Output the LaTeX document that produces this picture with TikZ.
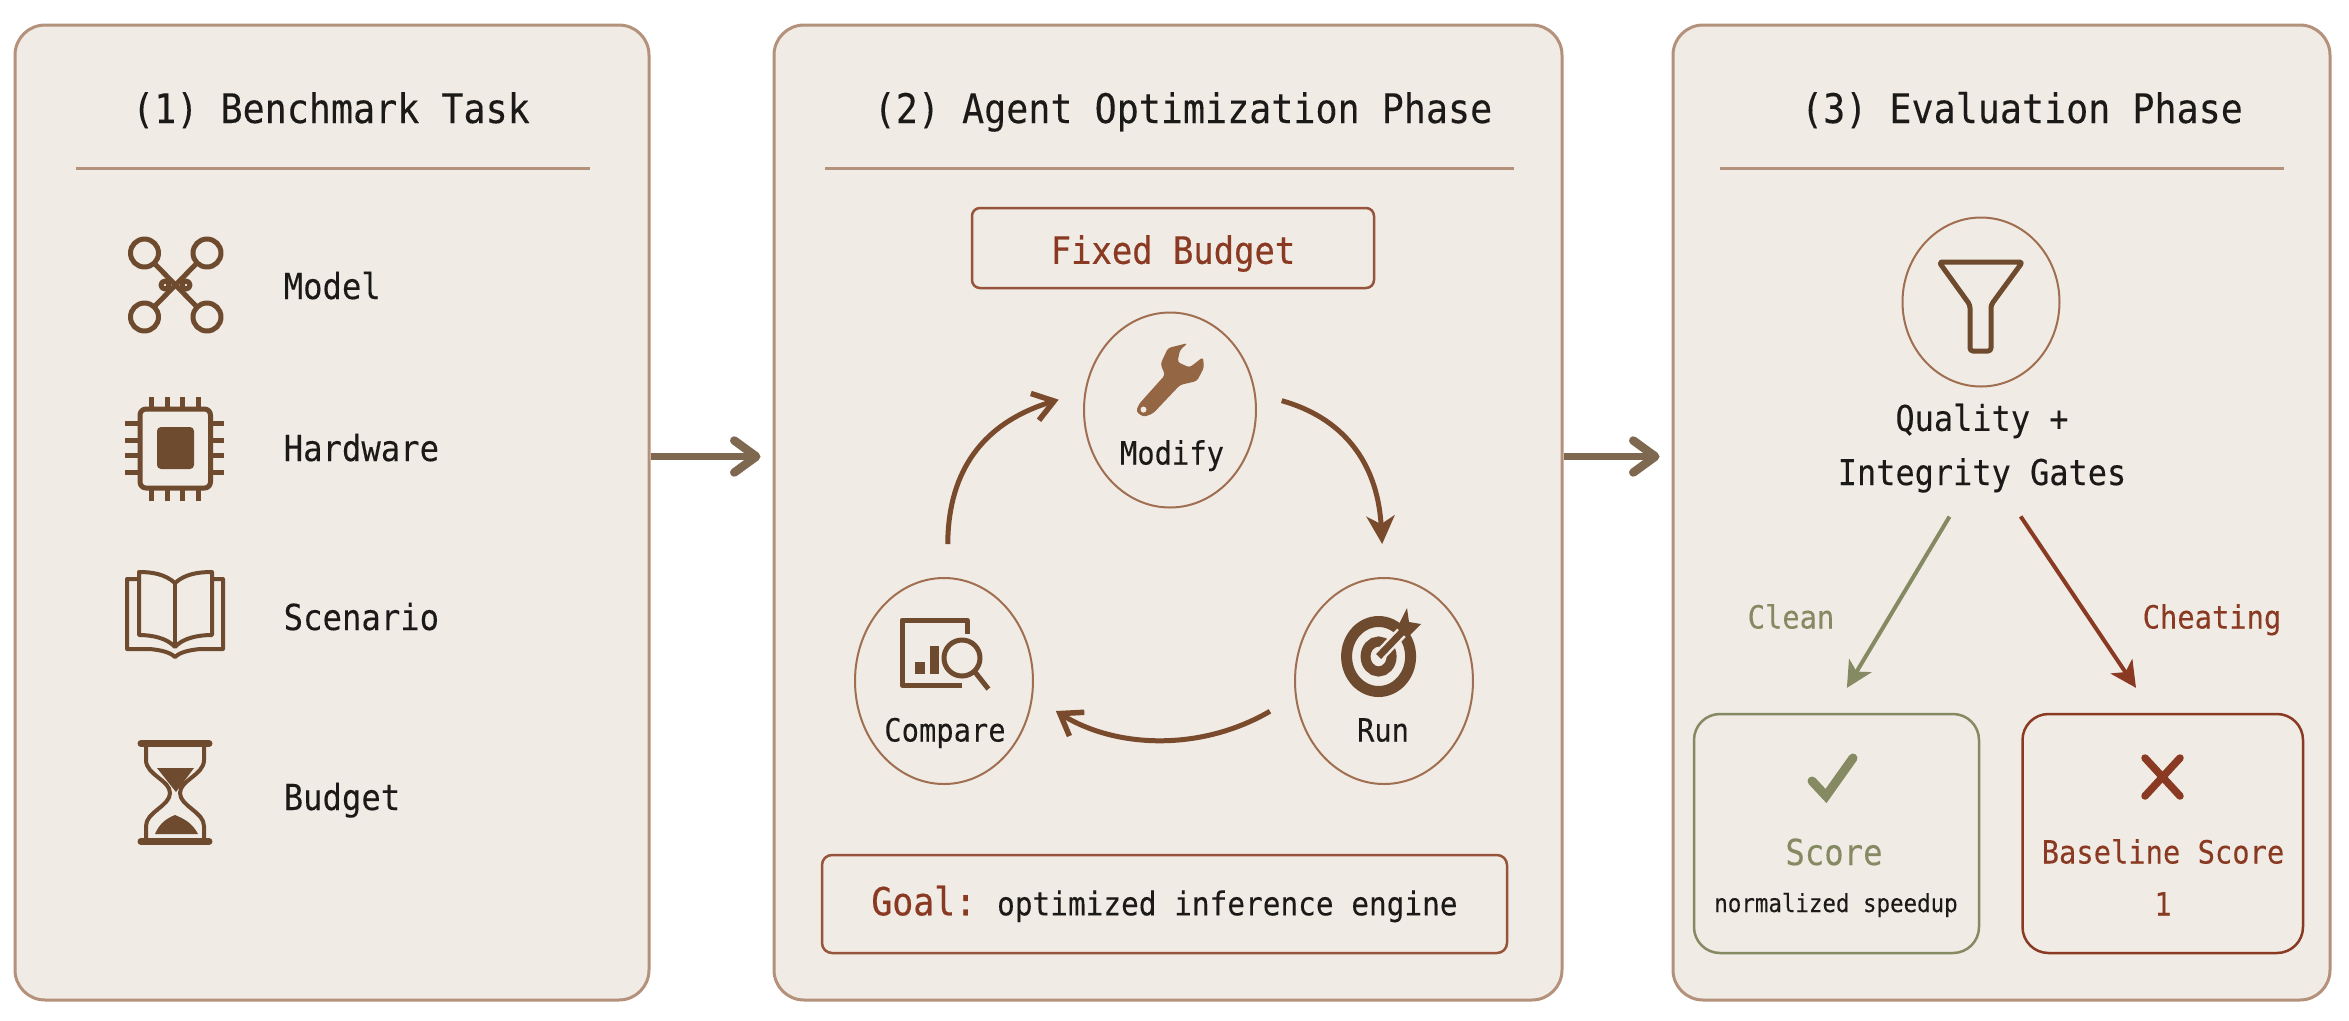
\documentclass[tikz,border=0pt]{standalone}
\usepackage{fontspec}
\usetikzlibrary{arrows.meta,shapes.geometric}
\newfontfamily\monolabel[FakeStretch=0.9,FakeBold=0.15]{DejaVu Sans Mono}
\newfontfamily\monoheavy[FakeStretch=0.9,FakeBold=0.5]{DejaVu Sans Mono}
\definecolor{panelfill}{HTML}{F0EBE4}
\definecolor{panelline}{HTML}{B4917A}
\definecolor{iconbrown}{HTML}{6E4A2E}
\definecolor{wrenchbrown}{HTML}{956644}
\definecolor{ringbrown}{HTML}{A06E50}
\definecolor{cyclebrown}{HTML}{7A4A2C}
\definecolor{linkbrown}{HTML}{7F6850}
\definecolor{alarmred}{HTML}{8A3A22}
\definecolor{cleanolive}{HTML}{858A62}
\definecolor{inkblack}{HTML}{1C1A18}
\tikzset{
  panel/.style={draw=panelline, fill=panelfill, line width=0.3mm, rounded corners=3mm, inner sep=0pt},
  divider/.style={draw=panelline, line width=0.3mm},
  titletext/.style={inner sep=0pt, text=inkblack, text height=3mm, text depth=0pt, font=\monolabel\fontsize{11.6}{14}\selectfont},
  itemtext/.style={inner sep=0pt, text=inkblack, anchor=west, text height=2.6mm, text depth=0pt, font=\monolabel\fontsize{10.2}{13}\selectfont},
  smalltext/.style={inner sep=0pt, text=inkblack, text height=2.3mm, text depth=0pt, font=\monolabel\fontsize{9.1}{12}\selectfont},
  ring/.style={ellipse, draw=ringbrown, line width=0.2mm, inner sep=0pt},
  cyclearrow/.style={draw=cyclebrown, line width=0.5mm},
  linkarrow/.style={draw=linkbrown, line width=0.65mm, -{Straight Barb[length=2.2mm,width=3.2mm,line width=0.85mm,round]}},
  iconline/.style={draw=iconbrown, line width=0.5mm, line join=round},
}
\begin{document}
\begin{tikzpicture}[x=0.1mm,y=-0.1mm]
\useasboundingbox (0,0) rectangle (2349,1020);

\node[panel, minimum width=63.4cm/10, minimum height=97.5cm/10] (panela) at (332,512.5) {};
\node[panel, minimum width=78.8cm/10, minimum height=97.5cm/10] (panelb) at (1168,512.5) {};
\node[panel, minimum width=65.7cm/10, minimum height=97.5cm/10] (panelc) at (2001.5,512.5) {};

\draw[linkarrow, shorten >=1.2mm] ([yshift=5.6mm]panela.east) -- ([yshift=5.6mm]panelb.west);
\draw[linkarrow, shorten >=1.2mm] ([yshift=5.6mm]panelb.east) -- ([yshift=5.6mm]panelc.west);

\node[titletext] (titlea) at (331,108) {(1) Benchmark Task};
\node[titletext] (titleb) at (1183,108) {(2) Agent Optimization Phase};
\node[titletext] (titlec) at (2022,108) {(3) Evaluation Phase};
\draw[divider] (76,168) -- (590,168);
\draw[divider] (825,168) -- (1514,168);
\draw[divider] (1720,168) -- (2284,168);

\node[itemtext] (model) at (283,286) {Model};
\node[itemtext] (hardware) at (283,448) {Hardware};
\node[itemtext] (scenario) at (283,617) {Scenario};
\node[itemtext] (budget) at (283,797) {Budget};

\foreach \cx/\cy in {144.5/253,207/253,144.5/317,207/317} {
  \draw[iconline] (\cx,\cy) circle[x radius=14, y radius=14];
}
\draw[iconline] (154,263) -- (197,307);
\draw[iconline] (197,263) -- (154,307);
\draw[iconline] (165,285) circle[radius=4];
\draw[iconline] (186,285) circle[radius=4];

\draw[iconline, rounded corners=0.6mm] (140,409) rectangle (210.5,488);
\fill[iconbrown, rounded corners=0.4mm] (157,427) rectangle (194,469);
\foreach \px in {151.6,167,182,198} {
  \draw[iconline] (\px,397) -- (\px,409);
  \draw[iconline] (\px,488) -- (\px,501);
}
\foreach \py in {423,440,455,472} {
  \draw[iconline] (125,\py) -- (140,\py);
  \draw[iconline] (210.5,\py) -- (224,\py);
}

\draw[iconline, line width=0.4mm] (175,583) .. controls (165,574) and (152,572) .. (139,572) -- (139,635) .. controls (152,635) and (167,638) .. (175,647) .. controls (183,638) and (198,635) .. (212,635) -- (212,572) .. controls (198,572) and (185,574) .. (175,583) -- cycle;
\draw[iconline, line width=0.4mm] (175,583) -- (175,647);
\draw[iconline, line width=0.4mm] (139,579) -- (127,579) -- (127,649) -- (150,649) .. controls (160,650) and (170,652) .. (175,657) .. controls (180,652) and (190,650) .. (200,649) -- (223,649) -- (223,579) -- (212,579);

\draw[iconline, line width=0.7mm, line cap=round] (141,743.5) -- (209,743.5);
\draw[iconline, line width=0.7mm, line cap=round] (141,841.5) -- (209,841.5);
\draw[iconline, line width=0.4mm] (146,746) -- (146,760) .. controls (146,775) and (170,780) .. (170,793) .. controls (170,806) and (146,812) .. (146,826) -- (146,840);
\draw[iconline, line width=0.4mm] (204,746) -- (204,760) .. controls (204,775) and (180,780) .. (180,793) .. controls (180,806) and (204,812) .. (204,826) -- (204,840);
\fill[iconbrown] (157,768) -- (194,768) -- (176,792) -- cycle;
\fill[iconbrown] (155,834) .. controls (160,822) and (168,818) .. (175,815) .. controls (182,818) and (192,822) .. (198,834) -- cycle;

\node[draw=alarmred!70!panelline, line width=0.25mm, rounded corners=0.8mm, minimum width=40.2cm/10, minimum height=8cm/10, inner sep=0pt, text=alarmred, text height=3.15mm, text depth=0pt, font=\monoheavy\fontsize{10.7}{13}\selectfont] (fixed) at (1173,248) {Fixed Budget};

\node[ring, minimum width=17.2cm/10, minimum height=19.5cm/10] (modify) at (1170,410) {};
\node[ring, minimum width=17.8cm/10, minimum height=20.6cm/10] (compare) at (944,681) {};
\node[ring, minimum width=17.8cm/10, minimum height=20.6cm/10] (run) at (1384,681) {};
\node[smalltext] (modifytext) at (1172,453) {Modify};
\node[smalltext] (comparetext) at (945,730) {Compare};
\node[smalltext] (runtext) at (1383,730) {Run};

\fill[wrenchbrown, rounded corners=0.3mm] (1188,343) -- (1168,348) -- (1160.5,364) -- (1165,375) -- (1139,404) -- (1136,411.5) -- (1143.5,417) -- (1153,413.5) -- (1180,385) -- (1197,381) -- (1204,367.5) -- (1203,357) -- (1189.6,367.5) -- (1177.5,362) -- (1180,350) -- cycle;
\fill[panelfill] (1143.5,409.6) circle[radius=3];

\draw[draw=iconbrown, line width=1.1mm] (1378.6,656.5) circle[x radius=32, y radius=35];
\draw[draw=iconbrown, line width=1mm] (1378.6,656.5) circle[x radius=13, y radius=15];
\draw[panelfill, line width=1.2mm] (1380,655) -- (1408,626);
\draw[iconbrown, line width=0.7mm] (1378.6,656.5) -- (1404,630);
\fill[iconbrown] (1397,628) -- (1407,608) -- (1409,622) -- (1421,624) -- (1407,638) -- cycle;

\draw[iconline] (967,634) -- (967,620) -- (902,620) -- (902,685) -- (962,685);
\fill[iconbrown] (915,662) rectangle (924.5,673.6);
\fill[iconbrown] (930,646) rectangle (939,673.6);
\draw[iconline] (962,658) circle[x radius=18, y radius=18];
\draw[iconline] (975,672) -- (988.4,689);

\draw[cyclearrow, shorten <=2.7mm, shorten >=3.3mm, -{Stealth[length=2.8mm,width=2.8mm,inset=0.8mm]}] (modify.11) .. controls (1350,420) and (1378,470) .. (run.north);
\draw[cyclearrow, shorten <=2.9mm, shorten >=2.7mm, -{Straight Barb[length=2mm,width=2.8mm,line width=0.55mm]}] (run.190) .. controls (1200,752) and (1115,748) .. (compare.-10);
\draw[cyclearrow, shorten <=3.3mm, shorten >=2.7mm, -{Straight Barb[length=2mm,width=2.8mm,line width=0.55mm]}] (compare.88) .. controls (948,480) and (975,425) .. (modify.168);

\node[draw=alarmred!70!panelline, line width=0.25mm, rounded corners=1mm, minimum width=68.5cm/10, minimum height=9.8cm/10, inner sep=0pt, text=inkblack, font=\monolabel\fontsize{9.3}{12}\selectfont] (goal) at (1164.5,904) {{\monoheavy\fontsize{11}{13}\selectfont\color{alarmred}Goal:}\hspace{2.1mm}optimized inference engine};

\node[ring, minimum width=15.7cm/10, minimum height=16.9cm/10] (filter) at (1981,302) {};
\draw[iconline, rounded corners=0.3mm] (1939,262) -- (2022.5,262) -- (1991,305) -- (1991,351) -- (1970,351) -- (1970,305) -- cycle;

\node[smalltext, align=center, text height=2.6mm, font=\monolabel\fontsize{10.1}{15.4}\selectfont] (gates) at (1982,472) {Quality +\\Integrity Gates};

\node[draw=cleanolive, line width=0.25mm, rounded corners=2.6mm, minimum width=28.5cm/10, minimum height=23.9cm/10, inner sep=0pt] (score) at (1836.5,833.5) {};
\node[draw=alarmred, line width=0.25mm, rounded corners=2.6mm, minimum width=28.05cm/10, minimum height=23.9cm/10, inner sep=0pt] (baseline) at (2162.75,833.5) {};

\draw[cleanolive, line width=0.4mm, shorten <=3.6mm, shorten >=2.9mm, -{Stealth[length=2.6mm,width=2.6mm,inset=0.7mm]}] ([xshift=-1.4mm]gates.south) -- ([xshift=-0.45mm]score.north);
\draw[alarmred, line width=0.4mm, shorten <=3.7mm, shorten >=3mm, -{Stealth[length=2.6mm,width=2.6mm,inset=0.7mm]}] ([xshift=1.8mm]gates.south) -- ([xshift=-1mm]baseline.north);

\node[smalltext, text=cleanolive] (clean) at (1791,617) {Clean};
\node[smalltext, text=alarmred] (cheating) at (2212,617) {Cheating};

\draw[cleanolive, line width=0.9mm, line cap=round, line join=miter] (1812,781) -- (1826,796) -- (1853,758);
\draw[alarmred, line width=0.75mm, line cap=round] (2145,758) -- (2180,796);
\draw[alarmred, line width=0.75mm, line cap=round] (2180,758) -- (2145,796);

\node[itemtext, anchor=center, text=cleanolive] (scoretext) at (1834,852) {Score};
\node[inner sep=0pt, text=inkblack, text height=1.8mm, text depth=0pt, font=\monolabel\fontsize{7.1}{9}\selectfont] (speedup) at (1836,903) {normalized speedup};
\node[smalltext, text=alarmred] (baselinetext) at (2163,852) {Baseline Score};
\node[smalltext, text=alarmred] (baselineval) at (2163,904) {1};
\end{tikzpicture}
\end{document}
